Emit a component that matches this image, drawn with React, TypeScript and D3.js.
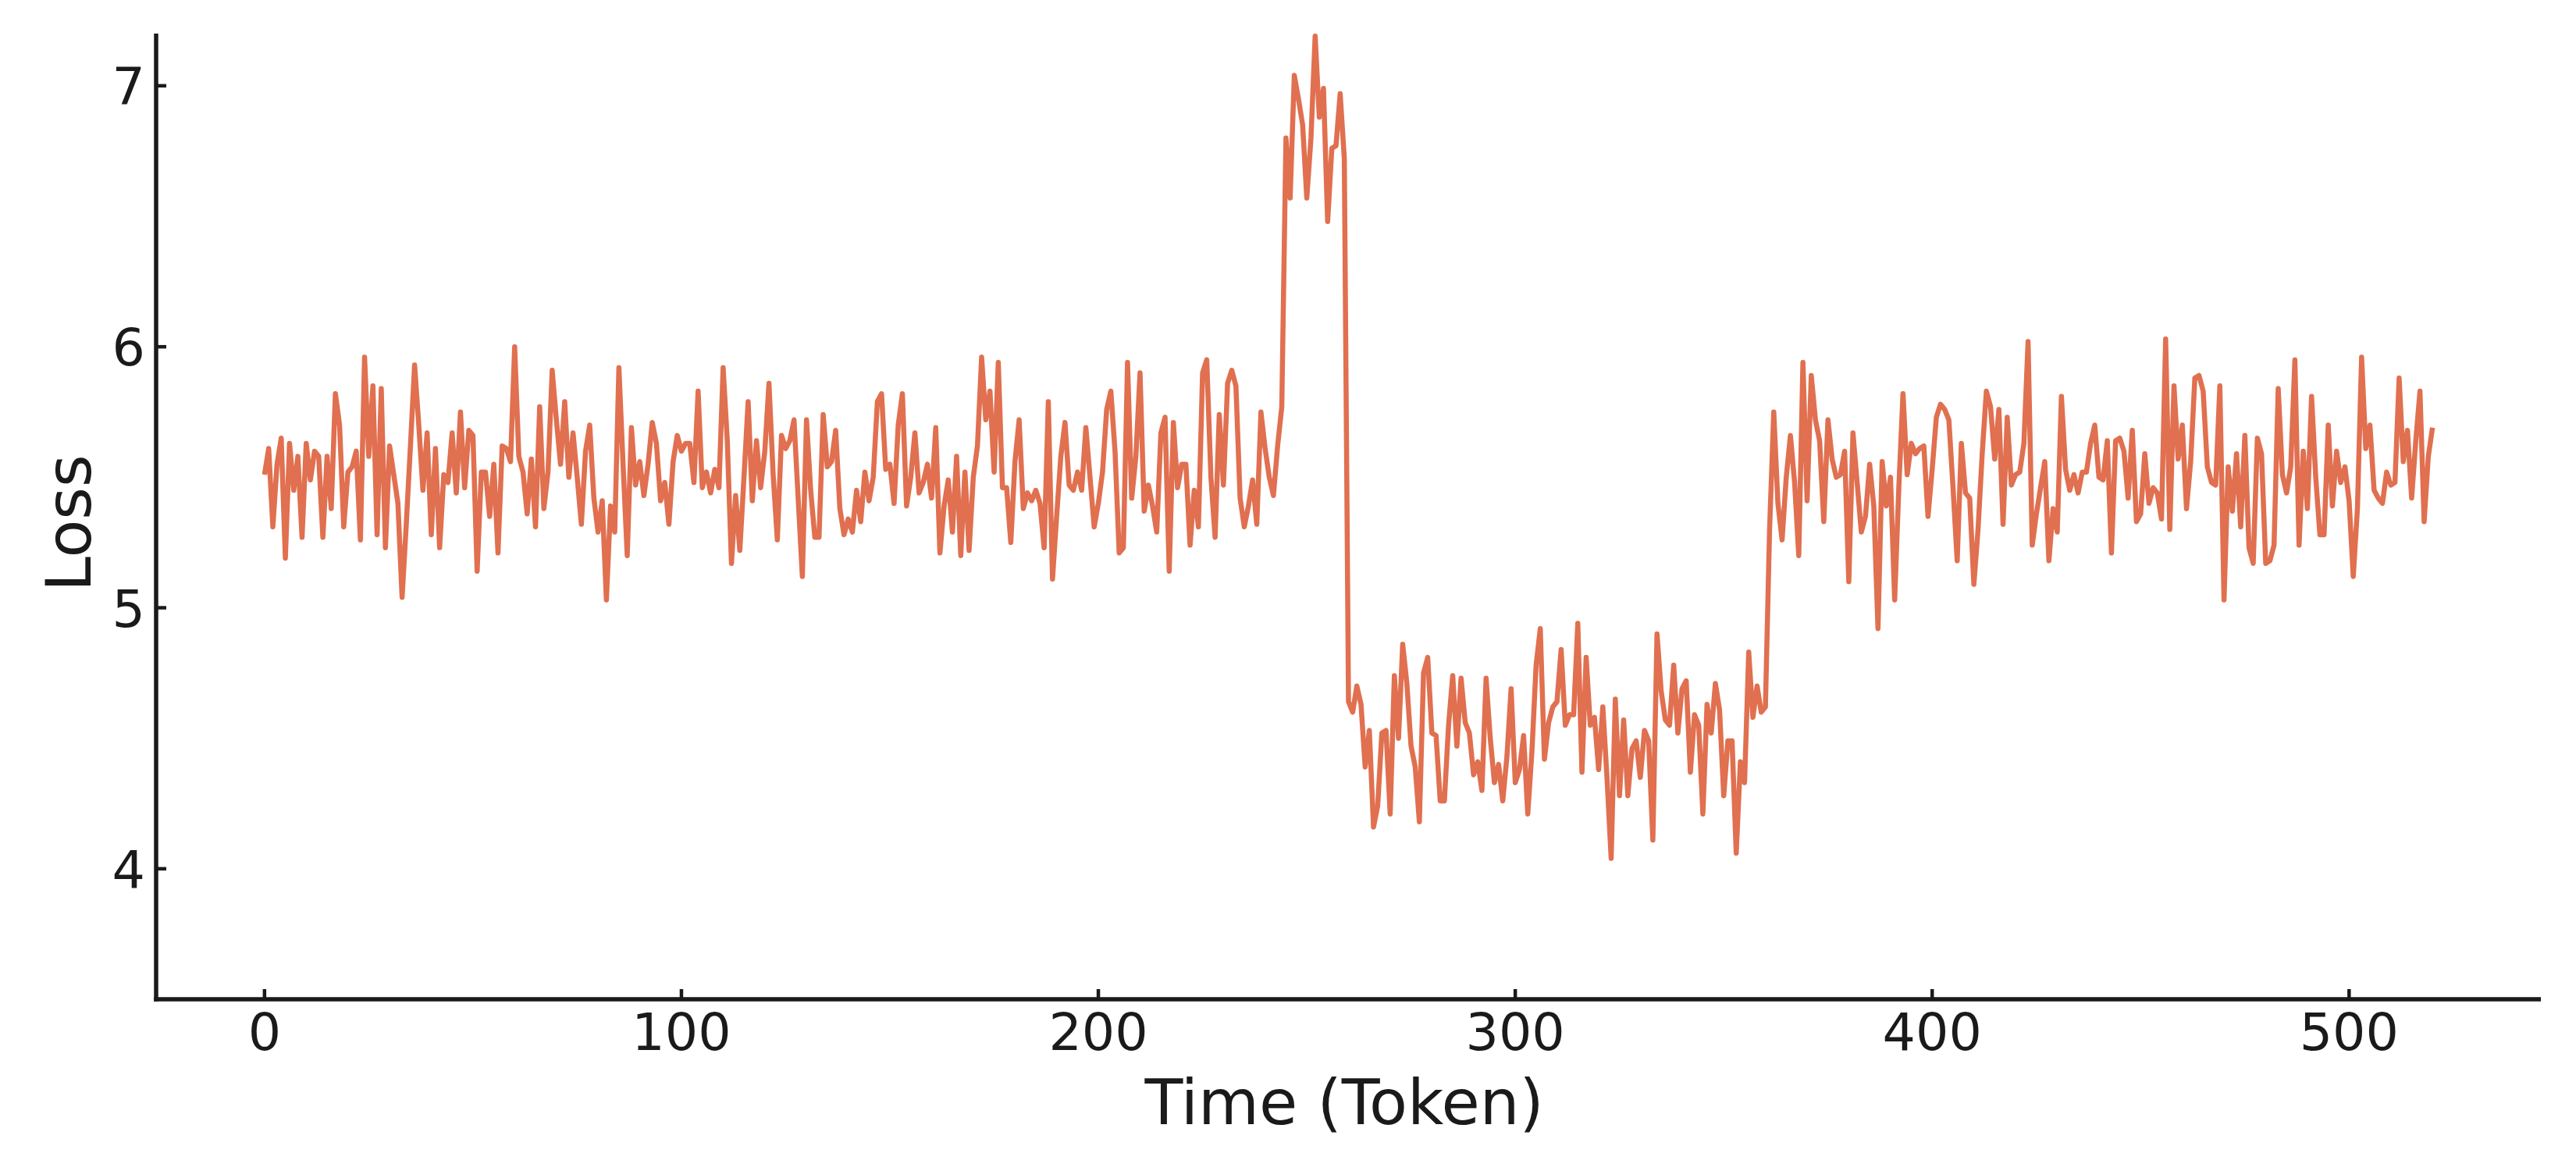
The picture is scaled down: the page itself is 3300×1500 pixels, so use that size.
import React, { useLayoutEffect } from "react";
import * as d3 from "d3";

// Loss per token (token index = position in the concatenated series)
const lossPhase1 = [
  5.51, 5.61, 5.31, 5.55, 5.65, 5.19, 5.63, 5.45, 5.58, 5.27, 5.63, 5.49, 5.60, 5.58, 5.27, 5.58, 5.38, 5.82, 5.70, 5.31,
  5.52, 5.54, 5.60, 5.26, 5.96, 5.58, 5.85, 5.28, 5.84, 5.23, 5.62, 5.51, 5.40, 5.04, 5.32, 5.62, 5.93, 5.70, 5.45, 5.67,
  5.28, 5.61, 5.23, 5.51, 5.48, 5.67, 5.44, 5.75, 5.46, 5.68, 5.66, 5.14, 5.52, 5.52, 5.35, 5.55, 5.21, 5.62, 5.61, 5.56,
  6.00, 5.58, 5.52, 5.36, 5.57, 5.31, 5.77, 5.38, 5.52, 5.91, 5.72, 5.55, 5.79, 5.50, 5.67, 5.50, 5.32, 5.60, 5.70, 5.42,
  5.29, 5.41, 5.03, 5.39, 5.29, 5.92, 5.55,
  5.20, 5.69, 5.47, 5.56, 5.43, 5.55, 5.71, 5.63, 5.41, 5.48, 5.32, 5.56, 5.66, 5.60, 5.63, 5.63, 5.48, 5.83, 5.46, 5.52,
  5.44, 5.53, 5.46, 5.92, 5.64, 5.17, 5.43, 5.22, 5.50, 5.79, 5.41, 5.64, 5.46, 5.60, 5.86, 5.51, 5.26, 5.66, 5.61, 5.64,
  5.72, 5.42, 5.12, 5.72, 5.45, 5.27, 5.27, 5.74, 5.54, 5.56, 5.68, 5.38, 5.28, 5.34, 5.29, 5.45, 5.33, 5.52, 5.41, 5.50,
  5.79, 5.82, 5.53, 5.55, 5.40, 5.70, 5.82, 5.39, 5.50, 5.67, 5.44, 5.48, 5.55, 5.42, 5.69, 5.21, 5.39, 5.49, 5.29, 5.58,
  5.20, 5.52, 5.22, 5.50, 5.62, 5.96,
  5.72, 5.83, 5.52, 5.94, 5.46, 5.46, 5.25, 5.56, 5.72, 5.38, 5.44, 5.41, 5.45, 5.40, 5.23, 5.79, 5.11, 5.35, 5.58, 5.71,
  5.47, 5.45, 5.52, 5.45, 5.69, 5.50, 5.31, 5.40, 5.52, 5.76, 5.83, 5.60, 5.21, 5.23, 5.94, 5.42, 5.58, 5.90, 5.37, 5.47,
  5.39, 5.29, 5.67, 5.73, 5.14, 5.71, 5.46, 5.55, 5.55, 5.24, 5.45, 5.31, 5.90, 5.95, 5.50, 5.27, 5.74, 5.47, 5.86, 5.91,
  5.85, 5.42, 5.31, 5.39, 5.49, 5.32, 5.75, 5.61, 5.50, 5.43, 5.62, 5.77,
];

const lossSpike = [6.80, 6.57, 7.04, 6.95, 6.85, 6.57, 6.80, 7.19, 6.88, 6.99, 6.48, 6.76, 6.77, 6.97, 6.72];

const lossLow = [
  4.64, 4.60, 4.70, 4.63, 4.39, 4.53, 4.16, 4.24,
  4.52, 4.53, 4.21, 4.74, 4.50, 4.86, 4.71, 4.47, 4.39, 4.18, 4.75, 4.81, 4.52, 4.51, 4.26, 4.26, 4.55, 4.74, 4.47, 4.73,
  4.56, 4.52, 4.36, 4.41, 4.30, 4.73, 4.50, 4.33, 4.40, 4.26, 4.43, 4.69, 4.33, 4.38, 4.51, 4.21, 4.45, 4.78, 4.92, 4.42,
  4.56, 4.62, 4.64, 4.84, 4.55, 4.59, 4.59, 4.94, 4.37, 4.81, 4.55, 4.58, 4.38, 4.62, 4.35, 4.04, 4.65, 4.28, 4.57, 4.28,
  4.46, 4.49, 4.35, 4.53, 4.49, 4.11, 4.90, 4.68, 4.57, 4.55, 4.78, 4.52, 4.69, 4.72, 4.37, 4.59, 4.55, 4.21, 4.63, 4.52,
  4.71, 4.61, 4.28, 4.49, 4.49, 4.06, 4.41, 4.33, 4.83, 4.58, 4.70, 4.60, 4.62,
];

const lossRecovery = [
  5.30, 5.75, 5.40, 5.26, 5.50,
  5.66, 5.48, 5.20, 5.94, 5.41, 5.89, 5.72, 5.64, 5.33, 5.72, 5.57, 5.50, 5.51, 5.60, 5.10, 5.67, 5.48, 5.29, 5.35, 5.55,
  5.39, 4.92, 5.56, 5.39, 5.50, 5.03, 5.46, 5.82, 5.51, 5.63, 5.59, 5.61, 5.62, 5.35, 5.53, 5.73, 5.78, 5.76, 5.72, 5.46,
  5.18, 5.63, 5.44, 5.42, 5.09, 5.30, 5.59, 5.83, 5.77, 5.57, 5.76, 5.32, 5.73, 5.47, 5.51, 5.52, 5.63, 6.02, 5.24, 5.36,
  5.46, 5.56, 5.18, 5.38, 5.29, 5.81, 5.53, 5.45, 5.51, 5.44, 5.52, 5.52, 5.63, 5.70, 5.50, 5.49, 5.64, 5.21, 5.64, 5.65,
  5.60, 5.42, 5.68, 5.33,
  5.36,
  5.59, 5.40, 5.46, 5.44, 5.34, 6.03, 5.30, 5.85, 5.57, 5.70, 5.38, 5.56, 5.88, 5.89, 5.83, 5.54, 5.48, 5.47, 5.85, 5.03,
  5.54, 5.37, 5.59, 5.31, 5.66, 5.23, 5.17, 5.65, 5.59, 5.17, 5.18, 5.24, 5.84, 5.51, 5.44, 5.54, 5.95, 5.24, 5.60, 5.38,
  5.81, 5.50, 5.28, 5.28, 5.70, 5.39, 5.60, 5.48, 5.54, 5.41, 5.12, 5.38, 5.96, 5.61, 5.70, 5.45, 5.42, 5.40, 5.52, 5.47,
  5.48, 5.88, 5.56, 5.68, 5.42, 5.64, 5.83, 5.33, 5.58, 5.69,
];

const xTicks = [0, 100, 200, 300, 400, 500];
const yTicks = [4, 5, 6, 7];
const xDomain = [-26, 546];
const yDomain = [3.5, 7.2];
const xLabel = "Time (Token)";
const yLabel = "Loss";

const W = 3300;
const H = 1500;
const plot = { left: 200, right: 3255, top: 43, bottom: 1280 };
const INK = "#1a1a1a";
const LINE = "#e07050";
const FONT = "'DejaVu Sans', sans-serif";

export default function App() {
  useLayoutEffect(() => {
    document.body.style.margin = "0";
  }, []);

  const series = [...lossPhase1, ...lossSpike, ...lossLow, ...lossRecovery];
  const x = d3.scaleLinear().domain(xDomain).range([plot.left, plot.right]);
  const y = d3.scaleLinear().domain(yDomain).range([plot.bottom, plot.top]);
  const path = d3
    .line<number>()
    .x((_, i) => x(i))
    .y((d) => y(d))(series);

  const tickFs = 66.7;
  const labelFs = 80;

  return (
    <svg width={W} height={H} style={{ display: "block", background: "#fff" }} fontFamily={FONT}>
      <rect x={0} y={0} width={W} height={H} fill="#fff" />
      <path d={path ?? ""} fill="none" stroke={LINE} strokeWidth={6.5} strokeLinejoin="round" strokeLinecap="butt" />

      {/* spines */}
      <line x1={plot.left} y1={plot.top} x2={plot.left} y2={plot.bottom + 2.75} stroke={INK} strokeWidth={5.5} />
      <line x1={plot.left - 2.75} y1={plot.bottom} x2={plot.right} y2={plot.bottom} stroke={INK} strokeWidth={5.5} />

      {/* x ticks */}
      {xTicks.map((t) => (
        <g key={"x" + t}>
          <line x1={x(t)} x2={x(t)} y1={plot.bottom} y2={plot.bottom - 13} stroke={INK} strokeWidth={4.5} />
          <text x={x(t)} y={1345} textAnchor="middle" fontSize={tickFs} fill={INK}>
            {t}
          </text>
        </g>
      ))}

      {/* y ticks */}
      {yTicks.map((t) => (
        <g key={"y" + t}>
          <line x1={plot.left} x2={plot.left + 13} y1={y(t)} y2={y(t)} stroke={INK} strokeWidth={4.5} />
          <text x={186} y={y(t) + 24} textAnchor="end" fontSize={tickFs} fill={INK}>
            {t}
          </text>
        </g>
      ))}

      <text x={1722} y={1440} textAnchor="middle" fontSize={labelFs} fill={INK}>
        {xLabel}
      </text>
      <text transform={`translate(116, 670) rotate(-90)`} textAnchor="middle" fontSize={labelFs} fill={INK}>
        {yLabel}
      </text>
    </svg>
  );
}
